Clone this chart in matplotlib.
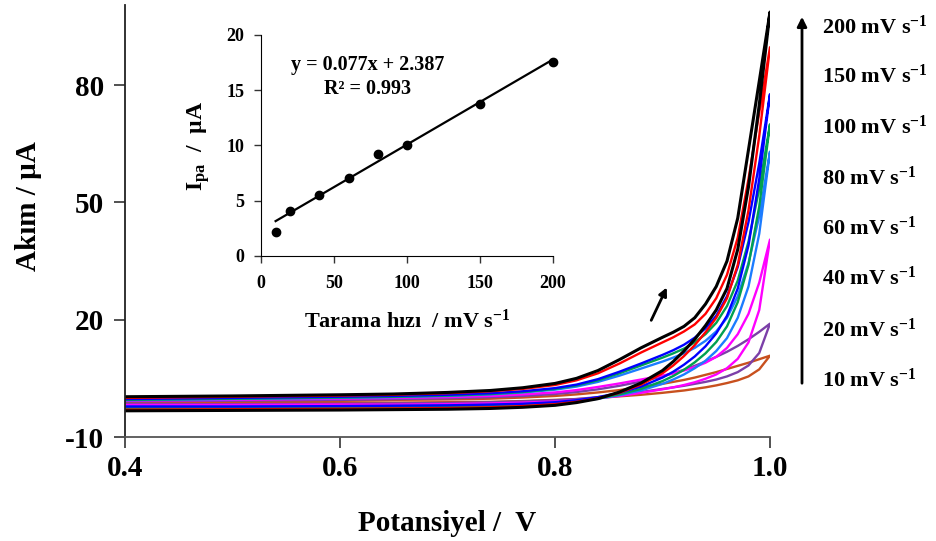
import matplotlib
matplotlib.use("Agg")
import matplotlib.pyplot as plt
from matplotlib.patches import FancyArrowPatch

plt.rcParams["font.family"] = ["Liberation Serif", "DejaVu Serif"]
plt.rcParams["font.weight"] = "bold"
plt.rcParams["axes.labelweight"] = "bold"
plt.rcParams["axes.unicode_minus"] = False
plt.rcParams["mathtext.fontset"] = "custom"
plt.rcParams["mathtext.rm"] = "Liberation Serif:bold"
plt.rcParams["mathtext.bf"] = "Liberation Serif:bold"
plt.rcParams["mathtext.it"] = "Liberation Serif:bold"
plt.rcParams["mathtext.default"] = "bf"

# potential grid of the anodic sweep (V); return sweep uses it reversed
potential = [0.40, 0.50, 0.60, 0.65, 0.70, 0.74, 0.77, 0.80, 0.82, 0.84, 0.86, 0.88,
             0.90, 0.91, 0.92, 0.93, 0.94, 0.95, 0.96, 0.97, 0.98, 0.99, 1.00]

scan_rates = [10, 20, 40, 60, 80, 100, 150, 200]
colors = ["#c8501e", "#7b3fa8", "#ff00ff", "#1c7cff",
          "#00a050", "#0000ff", "#ff0000", "#000000"]

# forward (anodic) currents, uA
fwd_10 = [-1.0, -0.9, -0.7, -0.5, -0.4, -0.2, 0.1, 0.5, 0.9, 1.4, 2.0, 2.8,
          3.6, 4.1, 4.6, 5.2, 5.9, 6.6, 7.4, 8.2, 9.0, 9.9, 10.8]
fwd_20 = [-0.9, -0.7, -0.5, -0.3, -0.1, 0.2, 0.5, 1.0, 1.5, 2.2, 3.1, 4.2,
          5.5, 6.3, 7.2, 8.2, 9.3, 10.5, 11.8, 13.3, 15.0, 16.9, 19.0]
fwd_40 = [-0.7, -0.5, -0.2, 0.0, 0.2, 0.5, 0.9, 1.4, 2.0, 2.8, 3.7, 4.7,
          5.7, 6.3, 7.0, 7.9, 9.0, 10.5, 12.8, 16.3, 21.5, 29.5, 40.5]
fwd_60 = [-0.6, -0.3, 0.0, 0.2, 0.5, 0.9, 1.4, 2.1, 2.9, 4.1, 5.7, 7.5,
          9.3, 10.3, 11.4, 12.8, 14.6, 17.0, 20.5, 26.0, 34.5, 46.5, 63.0]
fwd_80 = [-0.5, -0.2, 0.1, 0.3, 0.6, 1.0, 1.5, 2.3, 3.2, 4.5, 6.3, 8.3,
          10.3, 11.4, 12.6, 14.2, 16.3, 19.2, 23.5, 30.0, 40.0, 53.5, 70.0]
fwd_100 = [-0.3, 0.0, 0.3, 0.5, 0.8, 1.2, 1.7, 2.5, 3.4, 4.8, 6.7, 8.8,
           11.0, 12.2, 13.6, 15.4, 17.8, 21.0, 26.0, 33.5, 45.0, 60.0, 77.7]
fwd_150 = [0.0, 0.3, 0.6, 0.8, 1.2, 1.7, 2.3, 3.3, 4.5, 6.3, 8.8, 11.6,
           14.2, 15.5, 17.0, 18.8, 21.5, 25.5, 31.5, 41.0, 56.0, 73.0, 89.7]
fwd_200 = [0.3, 0.5, 0.8, 1.0, 1.4, 1.9, 2.6, 3.7, 5.0, 7.0, 9.8, 12.8,
           15.5, 16.8, 18.3, 20.5, 24.0, 28.5, 35.0, 46.0, 63.5, 81.0, 98.7]

# return (cathodic) currents on the same potential grid, uA
rev_10 = [-1.4, -1.4, -1.3, -1.2, -1.1, -1.0, -0.8, -0.5, -0.3, 0.0, 0.4, 0.8,
          1.3, 1.6, 1.9, 2.3, 2.7, 3.2, 3.8, 4.5, 5.5, 7.3, 10.8]
rev_20 = [-1.6, -1.6, -1.5, -1.4, -1.3, -1.1, -0.9, -0.6, -0.3, 0.2, 0.8, 1.5,
          2.3, 2.7, 3.1, 3.6, 4.1, 4.7, 5.5, 6.6, 8.3, 11.5, 19.0]
rev_40 = [-1.8, -1.8, -1.7, -1.7, -1.6, -1.4, -1.2, -0.9, -0.6, -0.1, 0.5, 1.3,
          2.2, 2.7, 3.3, 4.0, 4.9, 6.0, 7.6, 10.0, 14.2, 22.5, 40.5]
rev_60 = [-2.3, -2.3, -2.2, -2.1, -2.0, -1.8, -1.6, -1.3, -0.9, -0.2, 0.7, 1.9,
          3.6, 4.7, 6.0, 7.6, 9.5, 12.0, 15.3, 20.5, 28.5, 42.0, 63.0]
rev_80 = [-2.6, -2.5, -2.4, -2.3, -2.2, -2.0, -1.8, -1.4, -0.9, -0.1, 0.9, 2.3,
          4.3, 5.6, 7.2, 9.1, 11.4, 14.3, 18.3, 24.5, 34.0, 49.0, 70.0]
rev_100 = [-2.2, -2.2, -2.1, -2.0, -1.9, -1.7, -1.5, -1.1, -0.6, 0.2, 1.3, 2.9,
           5.2, 6.7, 8.5, 10.6, 13.2, 16.5, 21.0, 28.0, 39.0, 56.0, 77.7]
rev_150 = [-3.0, -2.9, -2.8, -2.7, -2.6, -2.4, -2.1, -1.6, -1.0, -0.1, 1.3, 3.4,
           6.3, 8.3, 10.7, 13.5, 16.8, 20.5, 25.5, 34.0, 48.0, 67.0, 89.7]
rev_200 = [-3.3, -3.2, -3.1, -3.0, -2.9, -2.7, -2.4, -1.9, -1.2, -0.2, 1.5, 3.8,
           7.0, 9.3, 12.0, 15.0, 18.5, 22.5, 28.0, 38.0, 54.0, 75.0, 98.7]

forward = [fwd_10, fwd_20, fwd_40, fwd_60, fwd_80, fwd_100, fwd_150, fwd_200]
reverse = [rev_10, rev_20, rev_40, rev_60, rev_80, rev_100, rev_150, rev_200]

# inset: peak current vs scan rate
rate_pts = [10, 20, 40, 60, 80, 100, 150, 200]
ipa_pts = [2.2, 4.1, 5.5, 7.1, 9.2, 10.0, 13.8, 17.6]
fit_slope, fit_intercept = 0.077, 2.387

fig = plt.figure(figsize=(9.36, 5.41), dpi=100)
ax = fig.add_axes((125 / 936, 104 / 541, 645 / 936, 432 / 541))

for rate, col, f, r in zip(scan_rates, colors, forward, reverse):
    lw = 2.2 if rate == 200 else 1.7
    ax.plot(potential + potential[::-1], f + r[::-1], color=col, lw=lw,
            solid_joinstyle="round")

ax.set_xlim(0.4, 1.0)
ax.set_ylim(-10, 100.5)
ax.set_xticks([0.4, 0.6, 0.8, 1.0])
ax.set_xticklabels(["0.4", "0.6", "0.8", "1.0"])
ax.set_yticks([-10, 20, 50, 80])
ax.tick_params(direction="out", length=8, width=1.2, labelsize=21, colors="#333333",
               labelcolor="black")
ax.tick_params(axis="x", pad=5)
ax.tick_params(axis="y", pad=7)
for side in ["top", "right"]:
    ax.spines[side].set_visible(False)
ax.spines["left"].set_color("#222222")
ax.spines["bottom"].set_color("#555555")
ax.spines["left"].set_linewidth(1.3)
ax.spines["bottom"].set_linewidth(1.3)
ax.set_xlabel("Potansiyel /  V", fontsize=21, labelpad=20)
ax.set_ylabel("Akım / µA", fontsize=21)
ax.yaxis.set_label_coords(-0.128, 0.535)

ax.annotate("", xy=(0.9051, 28.9), xytext=(0.8884, 19.2),
            arrowprops=dict(arrowstyle="-|>", color="black", lw=2,
                            mutation_scale=12))

# scan-rate labels on the right with the arrow
label_y = [380, 330, 278, 228, 178, 127, 76, 27]
for rate, yp in zip(scan_rates, label_y):
    fig.text(822 / 936, 1 - yp / 541, f"{rate} mV s$^{{-1}}$", fontsize=16,
             va="center", ha="left")
fig.add_artist(FancyArrowPatch(
    (802 / 936, 1 - 386 / 541), (802 / 936, 1 - 14 / 541),
    transform=fig.transFigure, arrowstyle="-|>", mutation_scale=14,
    color="black", lw=2))

# inset
ins = fig.add_axes((261 / 936, 285 / 541, 292 / 936, 221 / 541))
ins.plot(rate_pts, ipa_pts, "o", color="black", ms=6, clip_on=False, zorder=3)
fit_x = [rate_pts[0], rate_pts[-1]]
ins.plot(fit_x, [fit_slope * v + fit_intercept for v in fit_x], color="black", lw=1.6)
ins.set_xlim(0, 200)
ins.set_ylim(0, 20)
ins.set_xticks([0, 50, 100, 150, 200])
ins.set_yticks([0, 5, 10, 15, 20])
ins.tick_params(direction="out", length=5, width=1, labelsize=13, colors="#333333",
                labelcolor="black")
ins.tick_params(axis="x", pad=9)
ins.tick_params(axis="y", pad=7)
for side in ["top", "right"]:
    ins.spines[side].set_visible(False)
ins.set_xlabel("Tarama hızı  / mV s$^{-1}$", fontsize=16, labelpad=12)
ins.set_ylabel("I$_{pa}$  /  µA", fontsize=17, labelpad=10)
ins.text(0.365, 0.864, "y = 0.077x + 2.387", transform=ins.transAxes,
         fontsize=14.5, ha="center", va="center")
ins.text(0.365, 0.756, "R² = 0.993", transform=ins.transAxes,
         fontsize=14.5, ha="center", va="center")

fig.savefig("out.png", dpi=100)
